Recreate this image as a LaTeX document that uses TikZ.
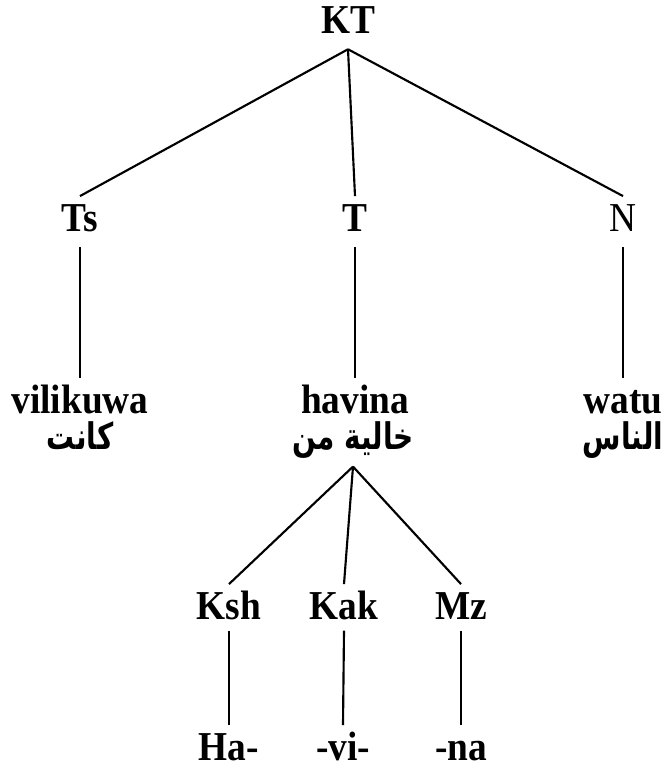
\documentclass[tikz,border=0pt]{standalone}
\usepackage{fontspec}
\usepackage{graphicx}
\setmainfont{Liberation Serif}
\newfontfamily\arabicfont[Script=Arabic]{DejaVu Sans}
\TeXXeTstate=1
% Times-like glyphs are drawn a little taller than wide
\newcommand\tallbox[1]{\scalebox{1}[1.1]{#1}}
\newcommand\artext[1]{\scalebox{0.95}[1.25]{\arabicfont\bfseries\beginR #1\endR}}

\begin{document}
\begin{tikzpicture}[x=0.75pt,y=-0.75pt,
  lbl/.style={inner sep=0pt, anchor=base,
    font=\fontsize{28}{32}\selectfont\bfseries,
    text height=26pt, text depth=12pt},
  lowlbl/.style={lbl, text depth=8.5pt},
  wordlbl/.style={lbl, text depth=2pt},
  leaflbl/.style={lbl, text depth=1pt},
  arlbl/.style={inner sep=0pt, anchor=base,
    font=\fontsize{22}{26}\selectfont,
    text height=21pt, text depth=13pt},
  edge/.style={line width=1.6pt}
]
\useasboundingbox (0,0) rectangle (666,768);

% root
\node[lbl] (KT) at (348,33) {\tallbox{KT}};

% first level
\node[lbl] (Ts) at (80,231) {\tallbox{Ts}};
\node[lbl] (T)  at (355,231) {\tallbox{T}};
\node[lbl] (N)  at (623,231) {\tallbox{\mdseries N}};

% words with their glosses
\node[wordlbl] (vilikuwa) at (80,413) {\tallbox{vilikuwa}};
\node[wordlbl] (havina)   at (355,413) {\tallbox{havina}};
\node[wordlbl] (watu)     at (623,413) {\tallbox{watu}};
\node[arlbl] (kanat)  at (80,449) {\artext{كانت}};
\node[arlbl] (khalia) at (353,449) {\artext{خالية من}};
\node[arlbl] (annas)  at (623,449) {\artext{الناس}};

% morpheme labels
\node[lowlbl] (Ksh) at (229,619) {\tallbox{Ksh}};
\node[lowlbl] (Kak) at (344,619) {\tallbox{Kak}};
\node[lowlbl] (Mz)  at (461,619) {\tallbox{Mz}};

% morphemes
\node[leaflbl] (Ha) at (229,760) {\tallbox{Ha-}};
\node[leaflbl] (vi) at (343,760) {\tallbox{-vi-}};
\node[leaflbl] (na) at (461,760) {\tallbox{-na}};

% branches
\draw[edge] (KT.south) -- (Ts.north);
\draw[edge] (KT.south) -- (T.north);
\draw[edge] (KT.south) -- (N.north);

\draw[edge] (Ts.south) -- (vilikuwa.north);
\draw[edge] (T.south)  -- (havina.north);
\draw[edge] (N.south)  -- (watu.north);

\draw[edge] (khalia.south) -- (Ksh.north);
\draw[edge] (khalia.south) -- (Kak.north);
\draw[edge] (khalia.south) -- (Mz.north);

\draw[edge] (Ksh.south) -- (Ha.north);
\draw[edge] (Kak.south) -- (vi.north);
\draw[edge] (Mz.south)  -- (na.north);
\end{tikzpicture}
\end{document}
